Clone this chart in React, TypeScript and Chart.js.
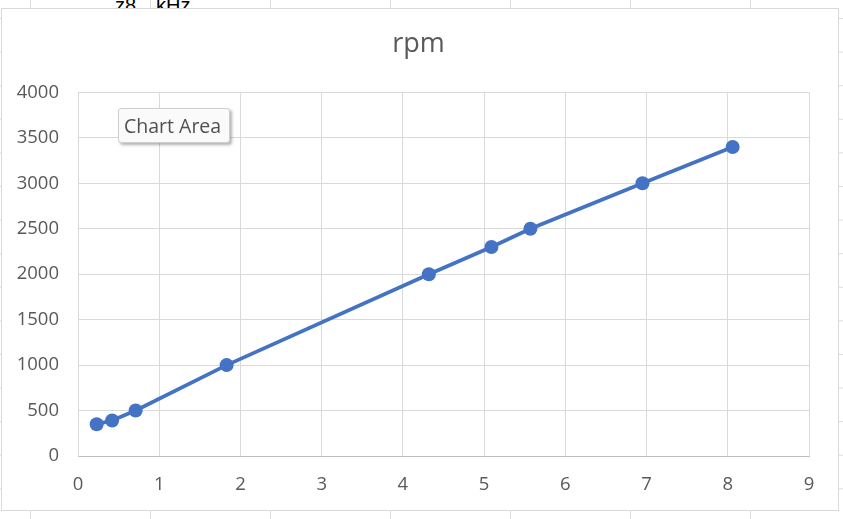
import { useEffect, useRef } from "react";
import { Chart, registerables } from "chart.js";

Chart.register(...registerables);

// Measured speed against frequency
const freqKHz = [0.23, 0.42, 0.71, 1.83, 4.32, 5.09, 5.57, 6.95, 8.06];
const rpmValues = [350, 390, 500, 1000, 2000, 2300, 2500, 3000, 3400];

const xMin = 0;
const xMax = 9;
const xStep = 1;
const yMin = 0;
const yMax = 4000;
const yStep = 500;

const seriesName = "rpm";
const hintText = "Chart Area";

const textGrey = "#595959";
const gridGrey = "#d9d9d9";
const seriesBlue = "#4472C4";
const tickFont = { family: "'Open Sans', sans-serif", size: 18.5, weight: "normal" as const };

// Centre the title over the whole chart box rather than the padded layout area
const titleShift = {
  id: "titleShift",
  afterLayout(chart: any) {
    const block = chart.titleBlock;
    if (block) {
      const shift = 13;
      block.left += shift;
      block.right += shift;
    }
  },
};

export default function App() {
  const canvasRef = useRef<HTMLCanvasElement>(null);

  useEffect(() => {
    if (!canvasRef.current) return;
    const chart = new Chart(canvasRef.current, {
      type: "scatter",
      data: {
        datasets: [
          {
            label: seriesName,
            data: freqKHz.map((x, i) => ({ x, y: rpmValues[i] })),
            showLine: true,
            tension: 0,
            borderColor: seriesBlue,
            backgroundColor: seriesBlue,
            borderWidth: 3.75,
            pointRadius: 7,
            pointBorderWidth: 0,
            pointHoverRadius: 7,
          },
        ],
      },
      plugins: [titleShift],
      options: {
        responsive: false,
        animation: false,
        layout: { padding: { left: 0, right: 29, top: 0, bottom: 0 } },
        plugins: {
          legend: { display: false },
          tooltip: { enabled: false },
          title: {
            display: true,
            text: seriesName,
            color: textGrey,
            font: { family: "'Open Sans', sans-serif", size: 27, weight: "normal" },
            padding: { top: 19, bottom: 32 },
          },
        },
        scales: {
          x: {
            type: "linear",
            min: xMin,
            max: xMax,
            ticks: { stepSize: xStep, color: textGrey, font: tickFont, padding: 18 },
            grid: { color: gridGrey, lineWidth: 1, drawTicks: false },
            border: { color: "#bfbfbf", width: 1 },
            afterFit: (scale: any) => {
              scale.height = 54;
            },
          },
          y: {
            type: "linear",
            min: yMin,
            max: yMax,
            ticks: {
              stepSize: yStep,
              color: textGrey,
              font: tickFont,
              padding: 19,
              callback: (value: any) => String(value),
            },
            grid: { color: gridGrey, lineWidth: 1, drawTicks: false },
            border: { color: gridGrey, width: 1 },
            afterFit: (scale: any) => {
              scale.width = 76;
            },
          },
        },
      },
    });
    return () => chart.destroy();
  }, []);

  const cellText = {
    position: "absolute" as const,
    top: -6,
    font: "20px 'Liberation Sans', sans-serif",
    color: "#000",
    whiteSpace: "nowrap" as const,
  };

  return (
    <div
      style={{
        position: "absolute",
        left: 0,
        top: 0,
        width: 843,
        height: 519,
        overflow: "hidden",
        backgroundColor: "#ffffff",
        backgroundImage:
          "linear-gradient(to right, #dcdcdc 1px, transparent 1px), linear-gradient(to bottom, #dcdcdc 1px, transparent 1px)",
        backgroundSize: "120px 100%, 100% 33.6px",
        backgroundPosition: "30px 0, 0 18px",
      }}
    >
      {/* sheet cell text sitting behind the chart */}
      <div style={{ ...cellText, left: 115 }}>z8</div>
      <div style={{ ...cellText, left: 156 }}>kHz</div>
      <div
        style={{
          position: "absolute",
          left: 1,
          top: 8,
          width: 836,
          height: 501,
          border: "1px solid #d9d9d9",
          background: "#ffffff",
        }}
      >
        <canvas ref={canvasRef} width={836} height={501} style={{ display: "block" }} />
        <div
          style={{
            position: "absolute",
            left: 116,
            top: 99,
            width: 112,
            height: 35,
            boxSizing: "border-box",
            border: "1px solid #cfcfcf",
            borderRadius: 3,
            background: "#fafafa",
            boxShadow: "2px 2px 3px rgba(0,0,0,0.3)",
            font: "19.5px 'Open Sans', sans-serif",
            color: "#505050",
            lineHeight: "33px",
            paddingLeft: 5,
            whiteSpace: "nowrap",
          }}
        >
          {hintText}
        </div>
      </div>
    </div>
  );
}
